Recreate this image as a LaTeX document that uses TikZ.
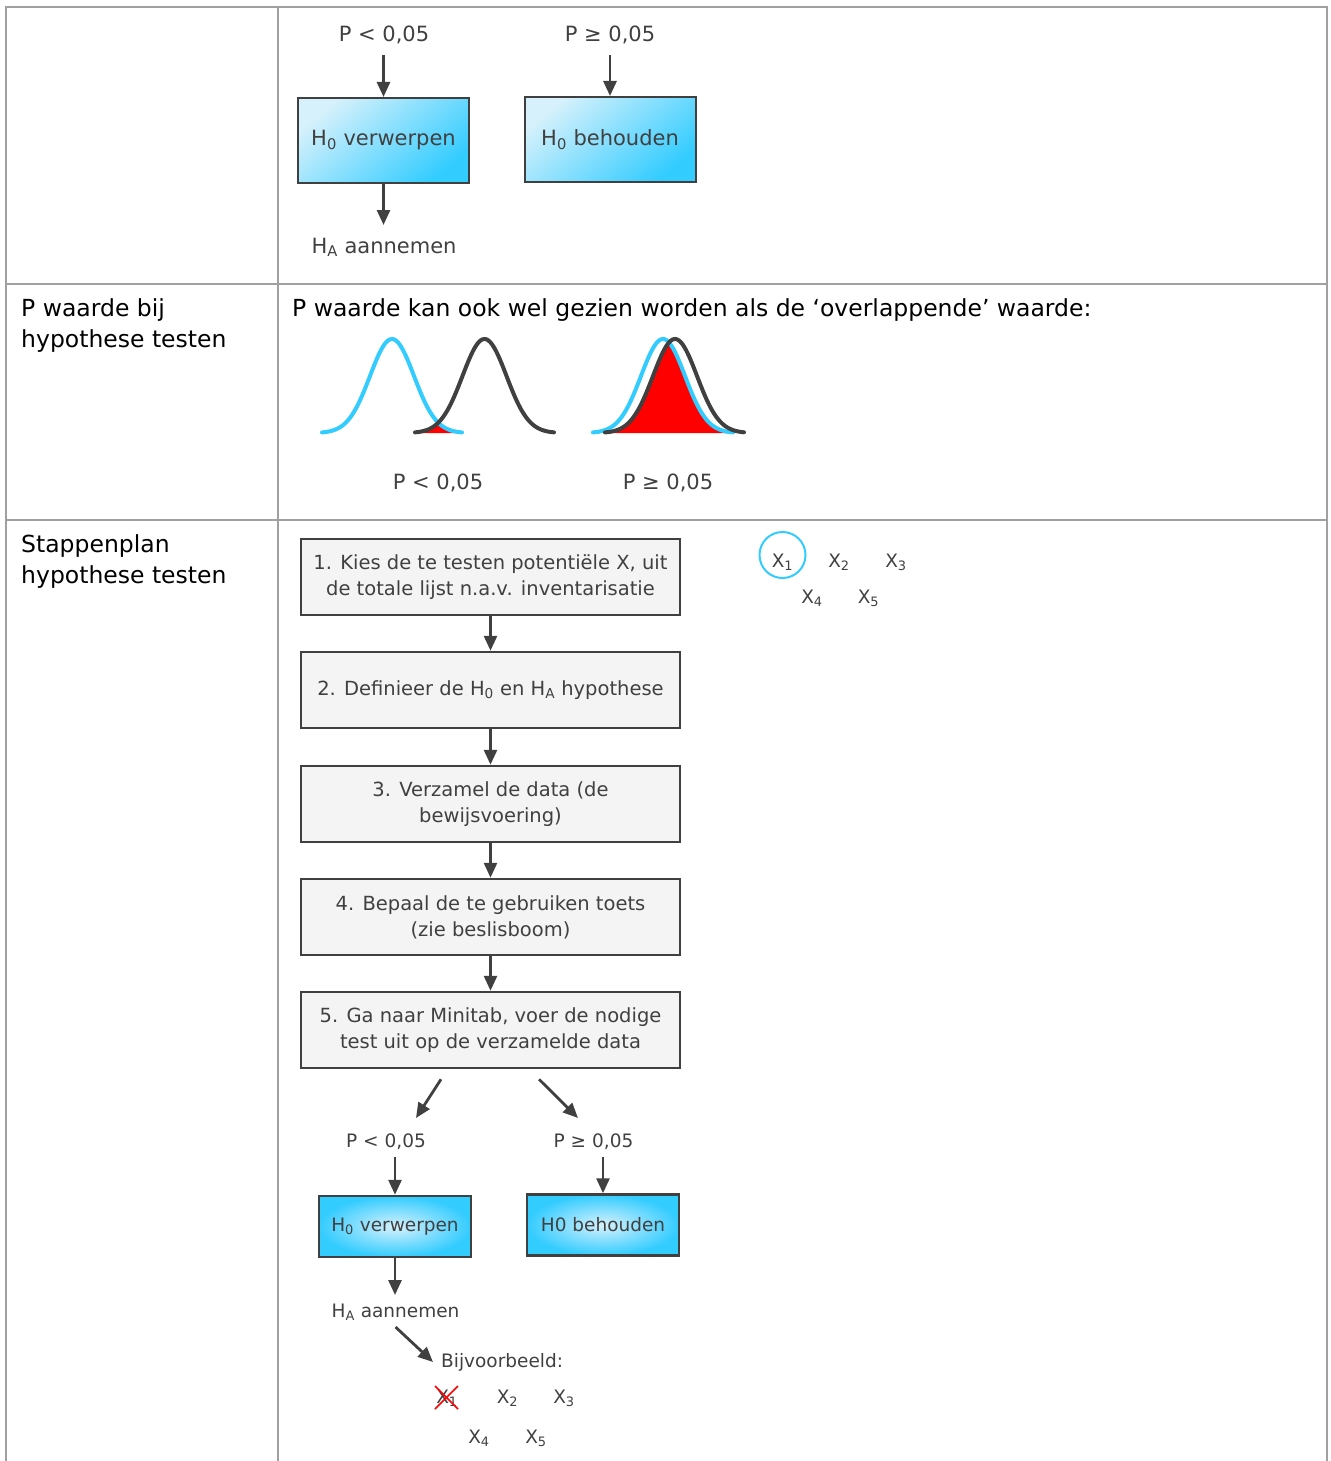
\documentclass[tikz,border=0pt]{standalone}
\usepackage{fontspec}
\setmainfont{DejaVu Sans}
\usetikzlibrary{arrows.meta,calc}
\definecolor{tline}{HTML}{A0A0A0}
\definecolor{dk}{HTML}{404040}
\definecolor{cy}{HTML}{33CCFF}
\definecolor{cyl}{HTML}{D6F1FC}
\definecolor{gbox}{HTML}{F4F4F4}
\newcommand{\myfs}[2]{\fontsize{#1}{#2}\selectfont}
\begin{document}
\begin{tikzpicture}[x=1pt,y=-1pt,
  tab/.style={draw=tline, line width=2.5pt},
  arr/.style={draw=dk, line width=2.8pt, -{Triangle[length=15pt,width=13pt]}},
  lbl/.style={inner sep=0, text=black, font=\myfs{23.5}{31}, align=left},
  txa/.style={inner sep=0, text=dk, font=\myfs{21}{26}, anchor=base},
  txb/.style={inner sep=0, text=dk, font=\myfs{18.5}{24}, anchor=base},
  stepbox/.style={draw=dk, line width=2.5pt, fill=gbox, minimum width=379pt, minimum height=76pt, align=center, text=dk, font=\myfs{19.5}{26}, inner sep=0},
  bigblue/.style={draw=dk, line width=2pt, top color=cyl, middle color=cy, bottom color=cy, shading angle=40, minimum width=171pt, minimum height=85pt, text=dk, font=\myfs{21}{26}, inner sep=0},
  smallblue/.style={draw=dk, line width=2.5pt, inner color=cyl, outer color=cy, minimum width=152pt, minimum height=61pt, text=dk, font=\myfs{18.5}{24}, inner sep=0},
  bcurve/.style={draw=cy, line width=4pt, line cap=round},
  kcurve/.style={draw=dk, line width=4pt, line cap=round}
]
\useasboundingbox (0,0) rectangle (1330,1461);
% table
\draw[tab] (6,1461) -- (6,7) -- (1327,7) -- (1327,1461);
\draw[tab] (278,7) -- (278,1461);
\draw[tab] (6,284) -- (1327,284);
\draw[tab] (6,520) -- (1327,520);

% row 1
\node[txa] (tpa) at (384,42) {P < 0,05};
\node[txa] (tpb) at (610,42) {P ≥ 0,05};
\node[bigblue] (tba) at (383.5,140.5) {H\textsubscript{0} verwerpen};
\node[bigblue] (tbb) at (610,139.5) {H\textsubscript{0} behouden};
\node[txa] (tha) at (384,253) {H\textsubscript{A} aannemen};
\coordinate (tpae) at ($(tpa.base)+(0,13)$);
\coordinate (tpbe) at ($(tpb.base)+(0,13)$);
\coordinate (thae) at ($(tha.base)+(0,-28)$);
\draw[arr] (tba.north |- tpae) -- (tba.north);
\draw[arr] (tbb.north |- tpbe) -- (tbb.north);
\draw[arr] (tba.south) -- (tba.south |- thae);

% row 2
\node[lbl, anchor=base west] (l2) at (21,347) {P waarde bij\\hypothese testen};
\node[lbl, anchor=base west] (t2) at (292,316) {P waarde kan ook wel gezien worden als de ‘overlappende’ waarde:};
\fill[red] (415,433) -- plot[domain=415:462, samples=40] (\x,{433-94*exp(-0.5*(max(abs(\x-392),abs(\x-484.5))/22)^2)}) -- (462,433) -- cycle;
\draw[bcurve] plot[domain=322:462, samples=90] (\x,{433-94*exp(-0.5*((\x-392)/22)^2)});
\draw[kcurve] plot[domain=415:554, samples=90] (\x,{433-94*exp(-0.5*((\x-484.5)/22)^2)});
\fill[red] (605,433) -- plot[domain=605:733, samples=90] (\x,{433-94*exp(-0.5*(max(abs(\x-663),abs(\x-675))/22)^2)}) -- (733,433) -- cycle;
\draw[bcurve] plot[domain=593:733, samples=90] (\x,{433-94*exp(-0.5*((\x-663)/22)^2)});
\draw[kcurve] plot[domain=605:744, samples=90] (\x,{433-94*exp(-0.5*((\x-675)/22)^2)});
\node[txa] (c1) at (438,489) {P < 0,05};
\node[txa] (c2) at (668,489) {P ≥ 0,05};

% row 3
\node[lbl, anchor=base west] (l3) at (21,583) {Stappenplan\\hypothese testen};
\node[stepbox] (s1) at (490.5,577) {1. Kies de te testen potentiële X, uit\\de totale lijst n.a.v. inventarisatie};
\node[stepbox] (s2) at (490.5,690) {2. Definieer de H\textsubscript{0} en H\textsubscript{A} hypothese};
\node[stepbox] (s3) at (490.5,804) {3. Verzamel de data (de\\bewijsvoering)};
\node[stepbox] (s4) at (490.5,917) {4. Bepaal de te gebruiken toets\\(zie beslisboom)};
\node[stepbox] (s5) at (490.5,1030) {5. Ga naar Minitab, voer de nodige\\test uit op de verzamelde data};
\draw[arr] (s1.south) -- (s2.north);
\draw[arr] (s2.south) -- (s3.north);
\draw[arr] (s3.south) -- (s4.north);
\draw[arr] (s4.south) -- (s5.north);

\node[txb] (lp) at (386,1147) {P < 0,05};
\node[txb] (rp) at (593.5,1147) {P ≥ 0,05};
\draw[arr] ($(s5.south)+(-49.5,10)$) -- ($(lp.base)+(30,-29)$);
\draw[arr] ($(s5.south)+(48.5,10)$) -- ($(rp.base)+(-15.5,-29)$);
\node[smallblue] (lb) at (395,1226.5) {H\textsubscript{0} verwerpen};
\node[smallblue] (rb) at (603,1225) {H0 behouden};
\coordinate (lpe) at ($(lp.base)+(0,10)$);
\coordinate (rpe) at ($(rp.base)+(0,10)$);
\draw[arr] (lb.north |- lpe) -- (lb.north);
\draw[arr] (rb.north |- rpe) -- (rb.north);
\node[txb] (lha) at (395.5,1317) {H\textsubscript{A} aannemen};
\coordinate (lhae) at ($(lha.base)+(0,-22)$);
\draw[arr] (lb.south) -- (lb.south |- lhae);
\node[txb, anchor=base west] (ex) at (441,1367) {Bijvoorbeeld:};
\draw[arr] ($(lha.base)+(0,10)$) -- ($(ex.base west)+(-8,-5)$);

% example X's
\node[txb] (ex1) at (447,1403) {X\textsubscript{1}};
\node[txb] (ex2) at (507.5,1403) {X\textsubscript{2}};
\node[txb] (ex3) at (564,1403) {X\textsubscript{3}};
\node[txb] (ex4) at (479,1443) {X\textsubscript{4}};
\node[txb] (ex5) at (536,1443) {X\textsubscript{5}};
\draw[red, line width=1.5pt] ($(ex1.base)+(-12,-17)$) -- ($(ex1.base)+(11,6)$);
\draw[red, line width=1.5pt] ($(ex1.base)+(11,-17)$) -- ($(ex1.base)+(-12,6)$);

% top-right X's
\node[txb] (tx1) at (782.5,567) {X\textsubscript{1}};
\node[txb] (tx2) at (839,567) {X\textsubscript{2}};
\node[txb] (tx3) at (896,567) {X\textsubscript{3}};
\node[txb] (tx4) at (812,603) {X\textsubscript{4}};
\node[txb] (tx5) at (868.5,603) {X\textsubscript{5}};
\draw[cy, line width=2pt] ($(tx1.base)+(0,-12)$) circle[radius=23pt];
\end{tikzpicture}
\end{document}
